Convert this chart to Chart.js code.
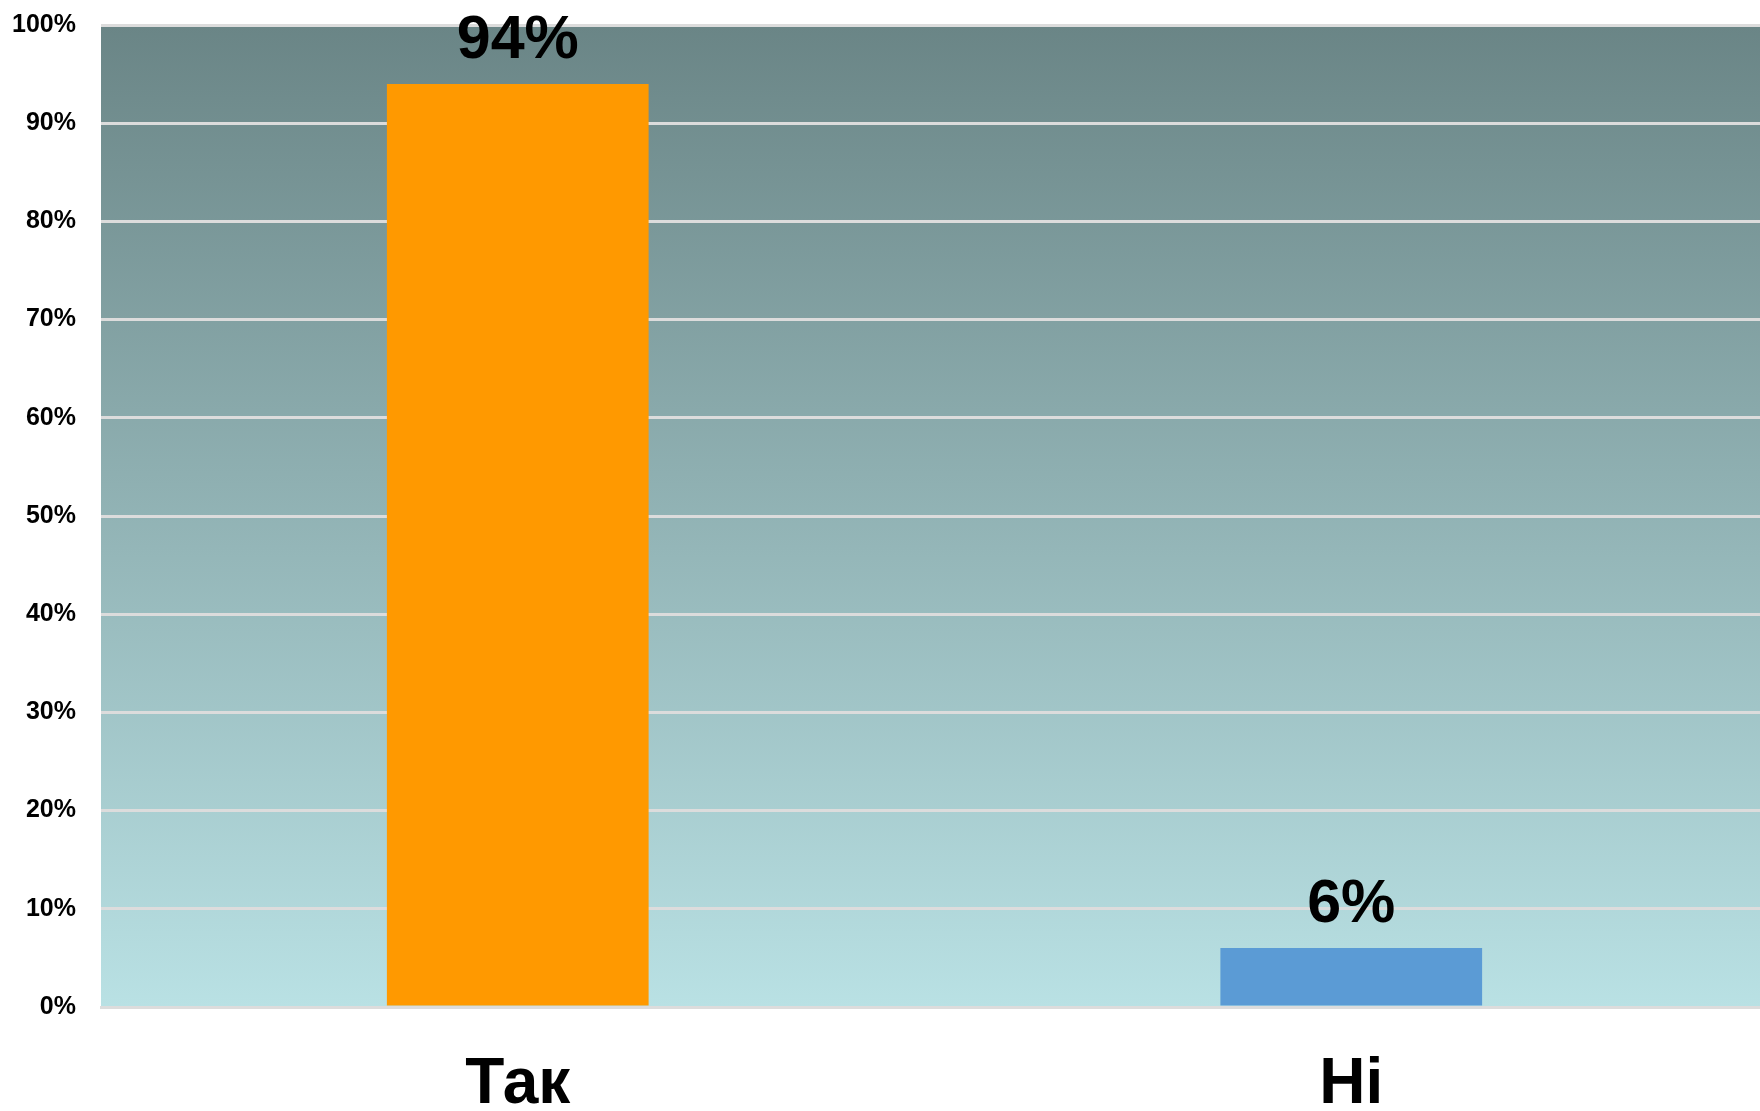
<!DOCTYPE html>
<html>
<head>
<meta charset="utf-8">
<script src="https://cdn.jsdelivr.net/npm/chart.js@4.4.1/dist/chart.umd.min.js"></script>
<style>
    html, body { margin: 0; padding: 0; background: #ffffff; overflow: hidden; }
    #wrap { width: 1768px; height: 1111px; }
</style>
</head>
<body>
<div id="wrap"><canvas id="chart" width="1768" height="1111"></canvas></div>
<script>
const categories = ['Так', 'Ні'];
const percentValues = [94, 6];
const barColors = ['#ff9900', '#5b9bd5'];
const yTicks = [0, 10, 20, 30, 40, 50, 60, 70, 80, 90, 100];

document.addEventListener("DOMContentLoaded", function () {
    const ctx = document.getElementById('chart').getContext('2d');

    // gradient panel behind the bars
    const plotBackground = {
        id: 'plotBackground',
        beforeDraw(chart) {
            const a = chart.chartArea;
            const c = chart.ctx;
            const g = c.createLinearGradient(0, a.top, 0, a.bottom);
            g.addColorStop(0, 'rgb(106,133,134)');
            g.addColorStop(1, 'rgb(185,225,228)');
            c.save();
            c.fillStyle = g;
            c.fillRect(a.left, a.top, a.right - a.left, a.bottom - a.top);
            c.restore();
        }
    };

    // value labels over the bars
    const valueLabels = {
        id: 'valueLabels',
        afterDatasetsDraw(chart) {
            const c = chart.ctx;
            const meta = chart.getDatasetMeta(0);
            c.save();
            c.font = 'bold 61px "Liberation Sans", Arial, sans-serif';
            c.fillStyle = '#000000';
            c.textAlign = 'center';
            c.textBaseline = 'alphabetic';
            meta.data.forEach(function (bar, i) {
                c.fillText(percentValues[i] + '%', bar.x, bar.y - 26);
            });
            c.restore();
        }
    };

    new Chart(ctx, {
        type: 'bar',
        data: {
            labels: categories,
            datasets: [{
                data: percentValues,
                backgroundColor: barColors,
                borderWidth: 0,
                barPercentage: 0.314,
                categoryPercentage: 1
            }]
        },
        options: {
            responsive: false,
            maintainAspectRatio: false,
            animation: false,
            layout: { padding: { top: 25, left: 13, right: 0, bottom: 0 } },
            plugins: {
                legend: { display: false },
                tooltip: { enabled: false }
            },
            scales: {
                x: {
                    afterFit: function (scale) { scale.height = 104; },
                    grid: { display: false, drawTicks: false },
                    border: { display: true, color: '#dcdcdc', width: 3 },
                    ticks: {
                        color: '#000000',
                        padding: 40,
                        font: { family: '"Liberation Sans", Arial, sans-serif', size: 64, weight: 'bold' }
                    }
                },
                y: {
                    min: 0,
                    max: 100,
                    afterFit: function (scale) {
                        scale.width = 88;
                        scale.paddingTop = 0;
                        scale.paddingBottom = 0;
                    },
                    afterBuildTicks: function (axis) {
                        axis.ticks = yTicks.map(function (v) { return { value: v }; });
                    },
                    grid: { color: '#dcdcdc', lineWidth: 3, drawTicks: false },
                    border: { display: false },
                    ticks: {
                        color: '#000000',
                        padding: 25,
                        font: { family: '"Liberation Sans", Arial, sans-serif', size: 25, weight: 'bold' },
                        callback: function (v) { return v + '%'; }
                    }
                }
            }
        },
        plugins: [plotBackground, valueLabels]
    });
});
</script>
</body>
</html>
